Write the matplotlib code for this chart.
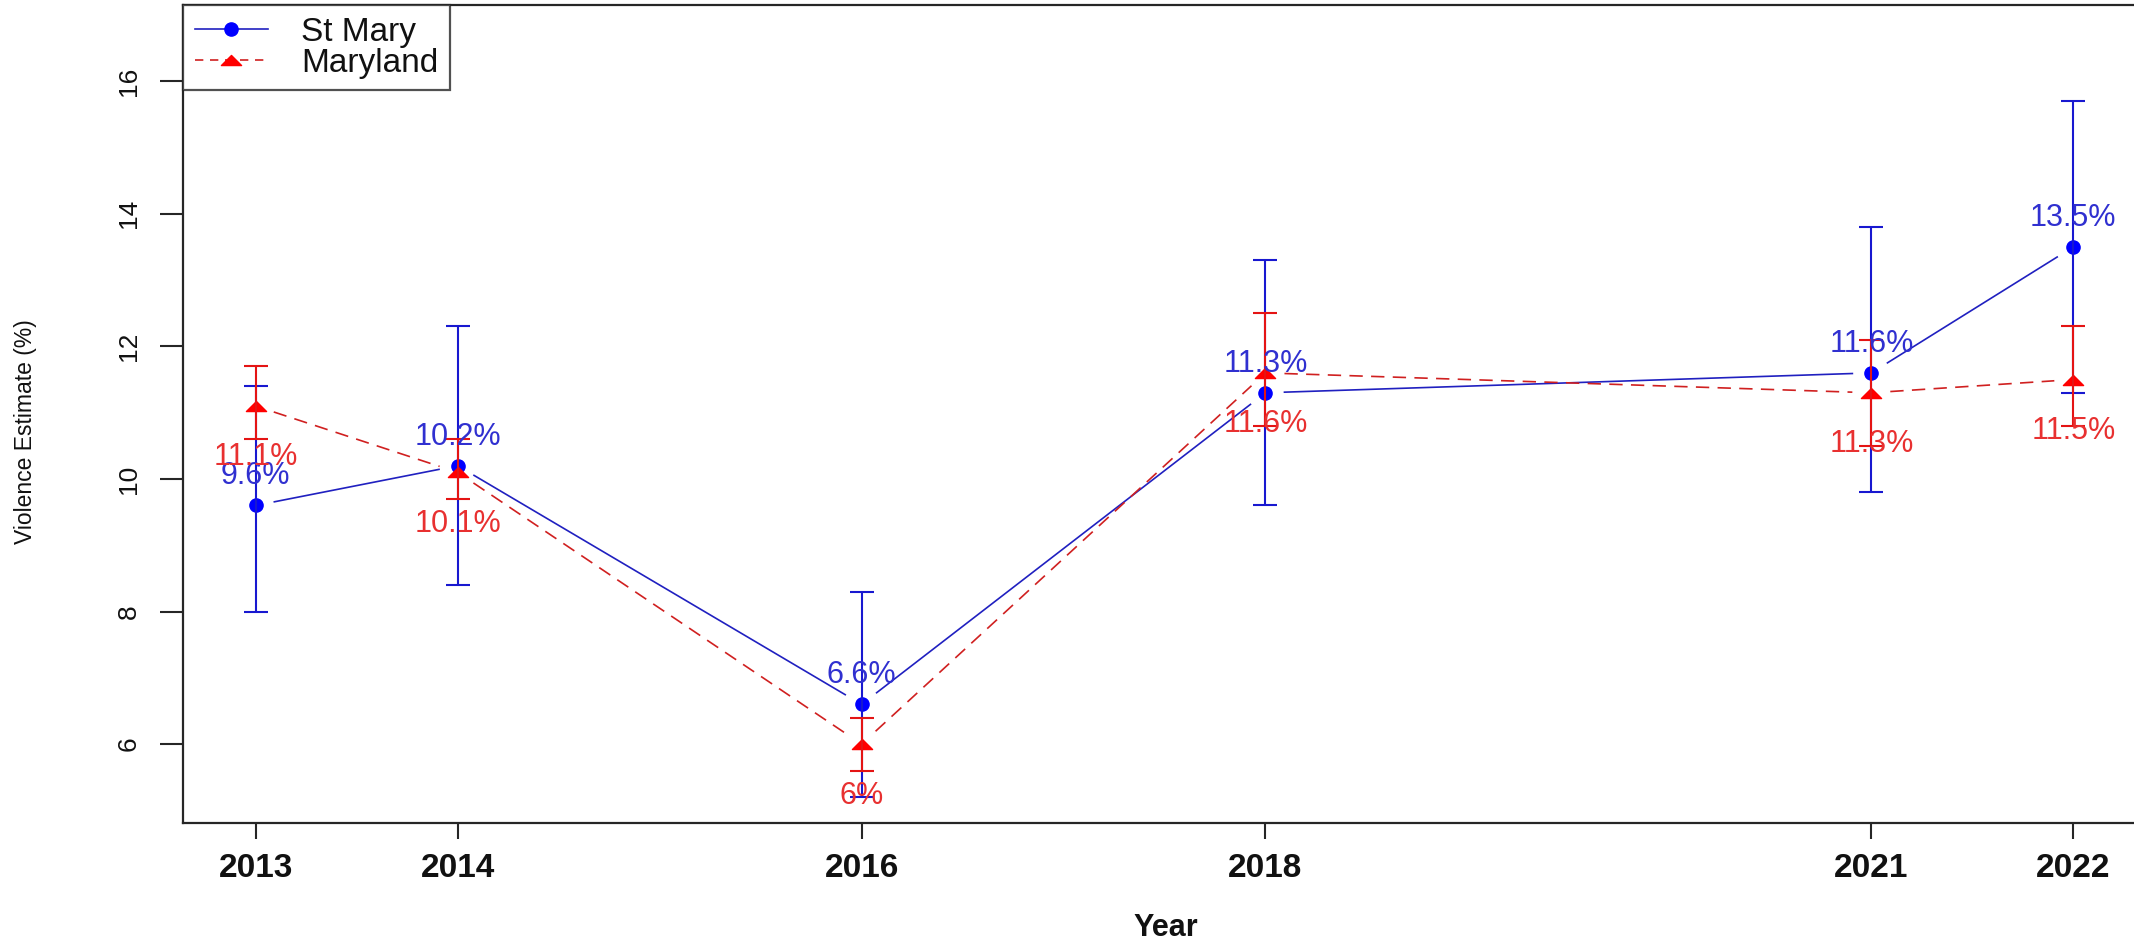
import numpy as np
import matplotlib
matplotlib.use('Agg')
from matplotlib import pyplot
from matplotlib.lines import Line2D
from matplotlib.path import Path

years = [2013, 2014, 2016, 2018, 2021, 2022]
st_mary = [9.6, 10.2, 6.6, 11.3, 11.6, 13.5]
st_mary_lo = [8.0, 8.4, 5.2, 9.6, 9.8, 11.3]
st_mary_hi = [11.4, 12.3, 8.3, 13.3, 13.8, 15.7]
maryland = [11.1, 10.1, 6.0, 11.6, 11.3, 11.5]
maryland_lo = [10.6, 9.7, 5.6, 10.8, 10.5, 10.8]
maryland_hi = [11.7, 10.6, 6.4, 12.5, 12.1, 12.3]
y_ticks = [6, 8, 10, 12, 14, 16]

pyplot.rcParams['font.family'] = ['Liberation Sans', 'DejaVu Sans']
axis_col = '#262626'

fig = pyplot.figure(figsize=(21.34, 9.39), dpi=100)
ax = fig.add_axes([183 / 2134, 1 - 823 / 939, 1963 / 2134, 818 / 939])
ax.set_xlim(2012.64, 2022.36)
ax.set_ylim(4.81, 17.15)

# flat triangle like the stretched R pch 17
tri = Path([(-1.0, -0.5), (1.0, -0.5), (0.0, 0.5), (-1.0, -0.5)],
           [Path.MOVETO, Path.LINETO, Path.LINETO, Path.CLOSEPOLY])


def gapped_line(xs, ys, color, ls, gap=19):
    # R type="b": line segments stop short of the points
    pts = ax.transData.transform(np.column_stack([xs, ys]))
    inv = ax.transData.inverted()
    for p, q in zip(pts[:-1], pts[1:]):
        d = q - p
        u = d / np.hypot(*d)
        a, b = inv.transform([p + gap * u, q - gap * u])
        ax.plot([a[0], b[0]], [a[1], b[1]], color=color, ls=ls, lw=1.2,
                dashes=(8, 5) if ls == '--' else (None, None))


series = [
    # name, values, low, high, marker col, line col, bar col, text col, ls, marker, size, label offset
    ('St Mary', st_mary, st_mary_lo, st_mary_hi, 'blue', '#2020c0', '#1818d0', '#3030d0', '-', 'o', 9.5, 21),
    ('Maryland', maryland, maryland_lo, maryland_hi, 'red', '#d02020', '#e41414', '#e83030', '--', tri, 14.5, -37),
]
for name, vals, lo, hi, mcol, lcol, bcol, tcol, ls, mk, ms, off in series:
    vals = np.array(vals)
    gapped_line(years, vals, lcol, ls)
    ax.plot(years, vals, ls='none', marker=mk, ms=ms, color=mcol)
    ax.errorbar(years, vals, yerr=[vals - np.array(lo), np.array(hi) - vals],
                fmt='none', ecolor=bcol, elinewidth=1.5, capsize=8.6, capthick=1.5)
    for x, v in zip(years, vals):
        ax.annotate(f'{v:g}%', (x, v), xytext=(0, off), textcoords='offset points',
                    ha='center', va='center', color=tcol, fontsize=22)

ax.set_xticks(years)
ax.set_xticklabels([str(y) for y in years], fontsize=24, fontweight='bold')
ax.set_yticks(y_ticks)
ax.set_yticklabels([str(t) for t in y_ticks], fontsize=19, rotation=90, va='center')
ax.tick_params(axis='x', length=11.5, width=1.5, pad=10, colors=axis_col, labelcolor='#111111')
ax.tick_params(axis='y', length=16.5, width=1.5, pad=14, colors=axis_col, labelcolor='#111111')
for s in ax.spines.values():
    s.set_color(axis_col)
    s.set_linewidth(1.6)

fig.text(26 / 2134, 1 - 432 / 939, 'Violence Estimate (%)', rotation=90,
         ha='center', va='center', fontsize=16.5, color='#111111')
fig.text(1166 / 2134, 1 - 928 / 939, 'Year', ha='center', va='center',
         fontsize=22, fontweight='bold', color='#111111')

handles = [Line2D([], [], color='#2020c0', ls='-', lw=1.2, marker='o', ms=9.5, mfc='blue', mec='blue'),
           Line2D([], [], color='#d02020', ls='--', lw=1.2, dashes=(5, 4), marker=tri, ms=14.5,
                  mfc='red', mec='red')]
leg = ax.legend(handles, ['St Mary', 'Maryland'], loc='upper left', bbox_to_anchor=(0, 1),
                borderaxespad=0, fontsize=24, frameon=True, fancybox=False,
                edgecolor=axis_col, borderpad=0.35, handlelength=2.2,
                handletextpad=1.0, labelspacing=0.0)
leg.get_frame().set_linewidth(1.6)
for t in leg.get_texts():
    t.set_color('#111111')

fig.savefig('out.png', dpi=100)
